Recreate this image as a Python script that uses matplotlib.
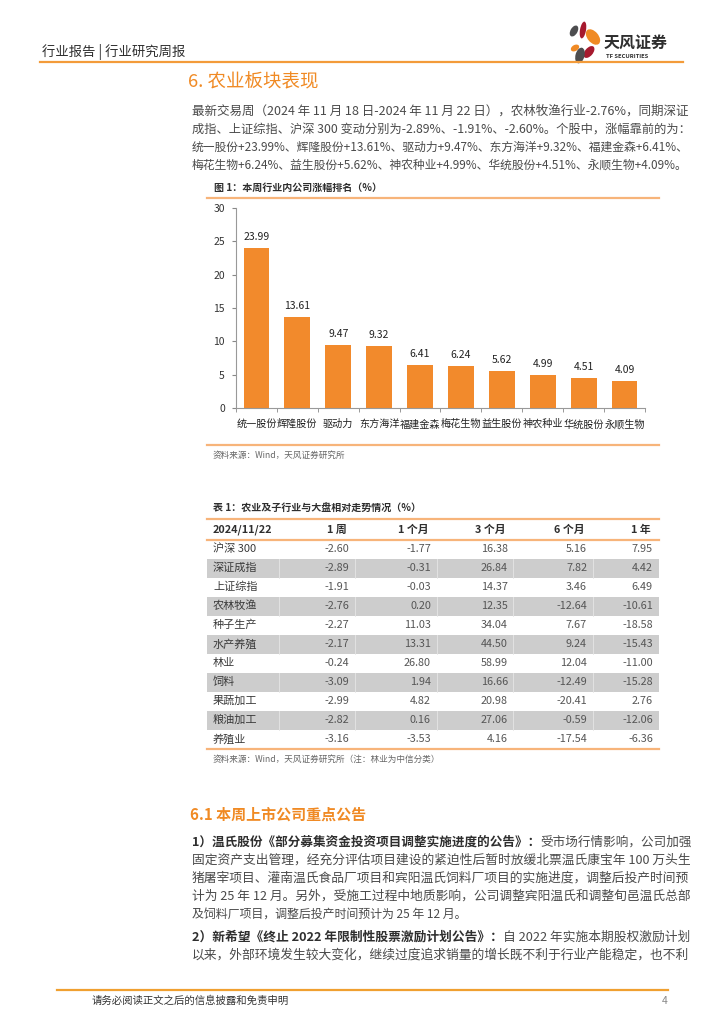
import numpy as np
import matplotlib
matplotlib.use("Agg")
import matplotlib.pyplot as plt
from matplotlib.patches import Ellipse, Rectangle

plt.rcParams['font.family'] = ['Noto Sans CJK SC', 'DejaVu Sans']

# 图 1 数据
companies = ['统一股份', '辉隆股份', '驱动力', '东方海洋', '福建金森',
             '梅花生物', '益生股份', '神农种业', '华统股份', '永顺生物']
gains = [23.99, 13.61, 9.47, 9.32, 6.41, 6.24, 5.62, 4.99, 4.51, 4.09]

# 表 1 数据
tbl_cols = ['1 周', '1 个月', '3 个月', '6 个月', '1 年']
tbl_rows = ['沪深 300', '深证成指', '上证综指', '农林牧渔', '种子生产', '水产养殖',
            '林业', '饲料', '果蔬加工', '粮油加工', '养殖业']
chg_1w = [-2.60, -2.89, -1.91, -2.76, -2.27, -2.17, -0.24, -3.09, -2.99, -2.82, -3.16]
chg_1m = [-1.77, -0.31, -0.03, 0.20, 11.03, 13.31, 26.80, 1.94, 4.82, 0.16, -3.53]
chg_3m = [16.38, 26.84, 14.37, 12.35, 34.04, 44.50, 58.99, 16.66, 20.98, 27.06, 4.16]
chg_6m = [5.16, 7.82, 3.46, -12.64, 7.67, 9.24, 12.04, -12.49, -20.41, -0.59, -17.54]
chg_1y = [7.95, 4.42, 6.49, -10.61, -18.58, -15.43, -11.00, -15.28, 2.76, -12.06, -6.36]

para1 = [
    [("最新交易周（2024 年 11 月 18 日-2024 年 11 月 22 日），农林牧渔行业-2.76%，同期深证", False)],
    [("成指、上证综指、沪深 300 变动分别为-2.89%、-1.91%、-2.60%。个股中，涨幅靠前的为：", False)],
    [("统一股份+23.99%、辉隆股份+13.61%、驱动力+9.47%、东方海洋+9.32%、福建金森+6.41%、", False)],
    [("梅花生物+6.24%、益生股份+5.62%、神农种业+4.99%、华统股份+4.51%、永顺生物+4.09%。", False)],
]
para2 = [
    [("1）温氏股份《部分募集资金投资项目调整实施进度的公告》：", True), ("受市场行情影响，公司加强", False)],
    [("固定资产支出管理，经充分评估项目建设的紧迫性后暂时放缓北票温氏康宝年 100 万头生", False)],
    [("猪屠宰项目、灌南温氏食品厂项目和宾阳温氏饲料厂项目的实施进度，调整后投产时间预", False)],
    [("计为 25 年 12 月。另外，受施工过程中地质影响，公司调整宾阳温氏和调整旬邑温氏总部", False)],
    [("及饲料厂项目，调整后投产时间预计为 25 年 12 月。", False)],
]
para3 = [
    [("2）新希望《终止 2022 年限制性股票激励计划公告》：", True), ("自 2022 年实施本期股权激励计划", False)],
    [("以来，外部环境发生较大变化，继续过度追求销量的增长既不利于行业产能稳定，也不利", False)],
]

ORANGE = '#F08A24'
BAR = '#F28A2C'
LIGHT_OR = '#F7B47A'
TXT = '#4a4a4a'
DARK = '#2e2e2e'

fig = plt.figure(figsize=(7.24, 10.24), dpi=100)
page = fig.add_axes([0, 0, 1, 1])
page.set_xlim(0, 724)
page.set_ylim(1024, 0)
page.axis('off')
r = fig.canvas.get_renderer()


def put_line(x, y, parts, size, target=None):
    texts = []
    cx = x
    for s, bold in parts:
        t = page.text(cx, y, s, fontsize=size, fontweight='bold' if bold else 'normal',
                      color=DARK if bold else TXT, ha='left', va='center')
        cx += t.get_window_extent(renderer=r).width
        texts.append(t)
    if target:
        k = min(max(target / (cx - x), 0.9), 1.12)
        cx = x
        for t in texts:
            t.set_fontsize(size * k)
            t.set_x(cx)
            cx += t.get_window_extent(renderer=r).width


# 页眉
page.text(42, 52, '行业报告 | 行业研究周报', fontsize=9.6, color=DARK, va='center')
page.plot([40, 683], [62, 62], color='#F39B3A', lw=1.6)
petals = [(574, 31, 7, 12, 30, '#4d4d4f'), (583, 30, 6, 17, 10, '#a6192e'),
          (593, 37, 11, 18, -40, ORANGE), (575, 48, 6, 9, 60, ORANGE),
          (589, 52, 8, 14, 40, '#a6192e'), (580, 55.5, 9, 16, 15, '#4d4d4f')]
for cx_, cy_, w_, h_, a_, c_ in petals:
    page.add_patch(Ellipse((cx_, cy_), w_, h_, angle=a_, color=c_, lw=0))
page.text(604, 43, '天风证券', fontsize=11.5, fontweight='bold', color=DARK, va='center')
page.text(606, 56.5, 'TF SECURITIES', fontsize=4.2, fontweight='bold', color=DARK, va='center')

# 标题与正文
page.text(188, 82, '6. 农业板块表现', fontsize=13.3, color=ORANGE, va='center')
for i, ln in enumerate(para1):
    put_line(192, 111 + 18 * i, ln, 8.6, target=688 - 192)

# 图 1
page.text(214, 188, '图 1：本周行业内公司涨幅排名（%）', fontsize=7.2, fontweight='bold', color=DARK, va='center')
page.plot([207, 659], [198, 198], color=LIGHT_OR, lw=1.6)

ax = fig.add_axes([236 / 724, 1 - 408 / 1024, 409 / 724, 200 / 1024])
x = np.arange(len(companies))
ax.bar(x, gains, width=0.63, color=BAR)
for xi, v in zip(x, gains):
    ax.text(xi, v + 0.9, f'{v:.2f}', ha='center', va='bottom', fontsize=7.5, color='#222')
ax.set_xlim(-0.5, len(companies) - 0.5)
ax.set_ylim(0, 30)
ax.set_yticks(range(0, 31, 5))
ax.set_xticks(x)
ax.set_xticklabels(companies, fontsize=7.3, color='#222')
ax.set_xticks(np.arange(-0.5, len(companies), 1), minor=True)
ax.tick_params(axis='x', which='major', length=0, pad=8)
ax.tick_params(axis='x', which='minor', length=3, color='#888')
ax.tick_params(axis='y', length=3, color='#888', labelsize=7.5, labelcolor='#333', pad=5)
for s in ['top', 'right']:
    ax.spines[s].set_visible(False)
for s in ['left', 'bottom']:
    ax.spines[s].set_color('#999')
    ax.spines[s].set_linewidth(0.8)

page.plot([207, 659], [445, 445], color=LIGHT_OR, lw=1.6)
page.text(213, 455, '资料来源：Wind，天风证券研究所', fontsize=6.2, color='#666', va='center')

# 表 1
page.text(213, 509, '表 1：农业及子行业与大盘相对走势情况（%）', fontsize=7.2, fontweight='bold', color=DARK, va='center')
page.plot([207, 659], [519, 519], color=LIGHT_OR, lw=1.6)
page.plot([207, 659], [539.5, 539.5], color=LIGHT_OR, lw=1.6)
col_right = [349, 431, 508, 587, 653]
col_sep = [279, 355, 437, 513, 593]
page.text(213, 530, '2024/11/22', fontsize=7.8, fontweight='bold', color=DARK, va='center')
for cr, name in zip(col_right, tbl_cols):
    page.text(cr - 2, 530, name, fontsize=7.8, fontweight='bold', color=DARK, va='center', ha='right')

cols = [chg_1w, chg_1m, chg_3m, chg_6m, chg_1y]
for i, name in enumerate(tbl_rows):
    yc = 549 + 19 * i
    if i % 2 == 1:
        page.add_patch(Rectangle((207, yc - 9.5), 452, 19, color='#cdcdcd', lw=0))
        for sx in col_sep:
            page.plot([sx, sx], [yc - 9.5, yc + 9.5], color='#e6e6e6', lw=0.6)
    page.text(213, yc, name, fontsize=8, color='#3a3a3a', va='center')
    for cr, col in zip(col_right, cols):
        page.text(cr, yc, f'{col[i]:.2f}', fontsize=7.8, color='#555', va='center', ha='right')
page.plot([207, 659], [749, 749], color=LIGHT_OR, lw=1.6)
page.text(213, 759, '资料来源：Wind，天风证券研究所（注：林业为中信分类）', fontsize=6.2, color='#666', va='center')

# 6.1
page.text(190, 815, '6.1 本周上市公司重点公告', fontsize=10.8, fontweight='bold', color=ORANGE, va='center')
for i, ln in enumerate(para2):
    put_line(192, 842 + 18 * i, ln, 8.6, target=(688 - 192) if i < len(para2) - 1 else None)
for i, ln in enumerate(para3):
    put_line(192, 937 + 18 * i, ln, 8.6, target=688 - 192)

# 页脚
page.plot([57, 668], [990, 990], color='#F0A030', lw=1.6)
page.text(92, 1001, '请务必阅读正文之后的信息披露和免责申明', fontsize=7.5, color='#333', va='center')
page.text(668, 1001, '4', fontsize=7.5, color='#888', va='center', ha='right')

fig.savefig('out.png', dpi=100)
